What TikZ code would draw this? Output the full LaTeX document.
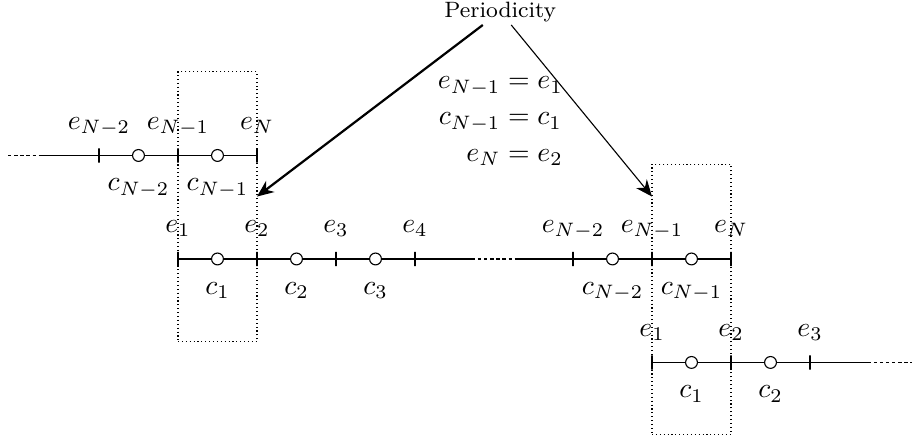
\documentclass[tikz,border=0pt]{standalone}
\usepackage{amsmath}
\usetikzlibrary{positioning, arrows.meta}
\tikzset{
    % Cell edges and cell centres
    edgetick/.style={ rectangle, draw, inner sep=0pt, minimum width=0pt, minimum height=0.18cm },
    centremark/.style={ circle, draw, fill=white, inner sep=0pt, minimum size=0.15cm },
    gridlabel/.style={ inner sep=0pt, text height=1.5ex, text depth=0.6ex },
    % Grid continues
    ellipsis/.style={ draw, dash pattern=on 1.2pt off 1pt },
    % Periodic copy of the boundary cell
    periodbox/.style={ draw, densely dotted, minimum width=1cm, minimum height=3.42cm, inner sep=0pt },
    arrow/.style={ -{Stealth[length=6pt, width=5pt]} },
}

\begin{document}
\begin{tikzpicture}[node distance=1cm, on grid]
    \useasboundingbox (-2.253,-2.278) rectangle (9.291,3.278);

    % Periodic boxes
    \node[periodbox] (box-start) at (0.5,0.66) {};
    \node[periodbox] (box-end) at (6.5,-0.51) {};

    % Previous period (end of the grid)
    \node[edgetick] (prev-eN2) at (-1,1.31) {};
    \node[edgetick, right=of prev-eN2] (prev-eN1) {};
    \node[edgetick, right=of prev-eN1] (prev-eN) {};
    \coordinate (prev-start) at (-2.15,1.31);
    \coordinate (prev-solid) at (-1.72,1.31);
    \draw[ellipsis] (prev-start) -- (prev-solid);
    \draw (prev-solid) -- (prev-eN);
    \node[centremark, right=0.5 of prev-eN2] (prev-cN2) {};
    \node[centremark, right=0.5 of prev-eN1] (prev-cN1) {};
    \node[gridlabel, above=0.4 of prev-eN2] (lbl-prev-eN2) {$e_{N-2}$};
    \node[gridlabel, above=0.4 of prev-eN1] (lbl-prev-eN1) {$e_{N-1}$};
    \node[gridlabel, above=0.4 of prev-eN] (lbl-prev-eN) {$e_N$};
    \node[gridlabel, below=0.38 of prev-cN2] (lbl-prev-cN2) {$c_{N-2}$};
    \node[gridlabel, below=0.38 of prev-cN1] (lbl-prev-cN1) {$c_{N-1}$};

    % Main grid
    \node[edgetick] (main-e1) at (0,0) {};
    \node[edgetick, right=of main-e1] (main-e2) {};
    \node[edgetick, right=of main-e2] (main-e3) {};
    \node[edgetick, right=of main-e3] (main-e4) {};
    \node[edgetick, right=2 of main-e4] (main-eN2) {};
    \node[edgetick, right=of main-eN2] (main-eN1) {};
    \node[edgetick, right=of main-eN1] (main-eN) {};
    \coordinate (main-gap-start) at (3.72,0);
    \coordinate (main-gap-end) at (4.29,0);
    \draw (main-e1) -- (main-gap-start);
    \draw[ellipsis] (main-gap-start) -- (main-gap-end);
    \draw (main-gap-end) -- (main-eN);
    \node[centremark, right=0.5 of main-e1] (main-c1) {};
    \node[centremark, right=0.5 of main-e2] (main-c2) {};
    \node[centremark, right=0.5 of main-e3] (main-c3) {};
    \node[centremark, right=0.5 of main-eN2] (main-cN2) {};
    \node[centremark, right=0.5 of main-eN1] (main-cN1) {};
    \node[gridlabel, above=0.4 of main-e1] (lbl-main-e1) {$e_1$};
    \node[gridlabel, above=0.4 of main-e2] (lbl-main-e2) {$e_2$};
    \node[gridlabel, above=0.4 of main-e3] (lbl-main-e3) {$e_3$};
    \node[gridlabel, above=0.4 of main-e4] (lbl-main-e4) {$e_4$};
    \node[gridlabel, above=0.4 of main-eN2] (lbl-main-eN2) {$e_{N-2}$};
    \node[gridlabel, above=0.4 of main-eN1] (lbl-main-eN1) {$e_{N-1}$};
    \node[gridlabel, above=0.4 of main-eN] (lbl-main-eN) {$e_N$};
    \node[gridlabel, below=0.38 of main-c1] (lbl-main-c1) {$c_1$};
    \node[gridlabel, below=0.38 of main-c2] (lbl-main-c2) {$c_2$};
    \node[gridlabel, below=0.38 of main-c3] (lbl-main-c3) {$c_3$};
    \node[gridlabel, below=0.38 of main-cN2] (lbl-main-cN2) {$c_{N-2}$};
    \node[gridlabel, below=0.38 of main-cN1] (lbl-main-cN1) {$c_{N-1}$};

    % Next period (start of the grid)
    \node[edgetick] (next-e1) at (6,-1.31) {};
    \node[edgetick, right=of next-e1] (next-e2) {};
    \node[edgetick, right=of next-e2] (next-e3) {};
    \coordinate (next-solid) at (8.73,-1.31);
    \coordinate (next-end) at (9.29,-1.31);
    \draw (next-e1) -- (next-solid);
    \draw[ellipsis] (next-solid) -- (next-end);
    \node[centremark, right=0.5 of next-e1] (next-c1) {};
    \node[centremark, right=0.5 of next-e2] (next-c2) {};
    \node[gridlabel, above=0.4 of next-e1] (lbl-next-e1) {$e_1$};
    \node[gridlabel, above=0.4 of next-e2] (lbl-next-e2) {$e_2$};
    \node[gridlabel, above=0.4 of next-e3] (lbl-next-e3) {$e_3$};
    \node[gridlabel, below=0.38 of next-c1] (lbl-next-c1) {$c_1$};
    \node[gridlabel, below=0.38 of next-c2] (lbl-next-c2) {$c_2$};

    % Periodicity
    \node[inner sep=1pt, font=\footnotesize] (period) at (4.08,3.13) {Periodicity};
    \node[below=1.35 of period] (relations) {$\begin{aligned}
        e_{N-1} &= e_1\\[-2pt]
        c_{N-1} &= c_1\\[-2pt]
        e_N &= e_2
    \end{aligned}$};
    \coordinate (tip-start) at (1,0.79);
    \coordinate (tip-end) at (6,0.79);
    \draw[arrow, thick] (period) -- (tip-start);
    \draw[arrow] (period) -- (tip-end);
\end{tikzpicture}
\end{document}
